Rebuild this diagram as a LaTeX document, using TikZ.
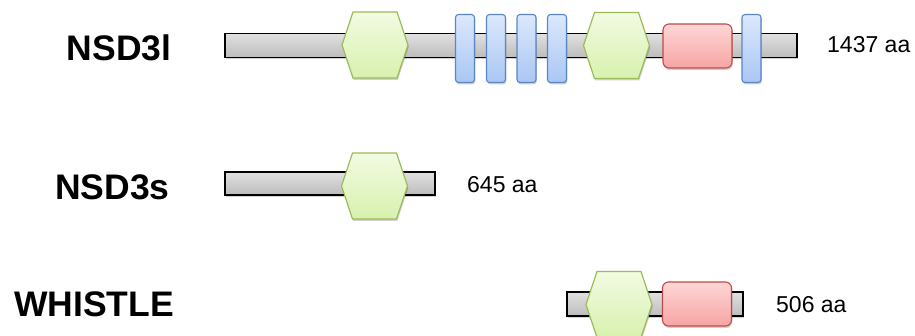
\documentclass[tikz,border=0pt]{standalone}
\usepackage{fontspec}
\setmainfont{Liberation Sans}
\usetikzlibrary{shadows}

% domain colours
\definecolor{hexline}{HTML}{9BBB59}
\definecolor{hextop}{HTML}{F2FBE2}
\definecolor{hexbot}{HTML}{D8F1AE}
\definecolor{boxline}{HTML}{5A86C4}
\definecolor{boxtop}{HTML}{DCE8FC}
\definecolor{boxbot}{HTML}{A9C6F3}
\definecolor{redline}{HTML}{BE4B48}
\definecolor{redtop}{HTML}{FFD6D6}
\definecolor{redbot}{HTML}{F6A4A4}

\tikzset{
  softshadow/.style={drop shadow={shadow xshift=0.8pt, shadow yshift=-2pt, opacity=0.18, fill=black}},
  chain/.style={rectangle, draw=black, line width=1.3pt, inner sep=0pt,
    top color=white!88!black, bottom color=white!74!black, softshadow},
  hexdom/.style={draw=hexline, line width=1.2pt, top color=hextop, bottom color=hexbot, softshadow},
  bluedom/.style={rectangle, rounded corners=3pt, draw=boxline, line width=1.1pt, inner sep=0pt,
    minimum width=19pt, minimum height=68pt, top color=boxtop, bottom color=boxbot, softshadow},
  reddom/.style={rectangle, rounded corners=6pt, draw=redline, line width=1.1pt, inner sep=0pt,
    minimum width=69pt, minimum height=44pt, top color=redtop, bottom color=redbot, softshadow},
  protname/.style={anchor=base, inner sep=0pt, font=\bfseries\fontsize{35.5}{40}\selectfont},
  aalabel/.style={anchor=base west, inner sep=0pt, font=\fontsize{23}{26}\selectfont},
  pics/hexagon/.style={code={
    \path[hexdom] (-33,0) -- (-22,-33) -- (22,-33) -- (33,0) -- (22,33) -- (-22,33) -- cycle;
  }}
}

\begin{document}
\begin{tikzpicture}[x=1pt, y=-1pt]
\useasboundingbox (0,0) rectangle (915,336);

% ---- NSD3l ----
\node[protname] (n1) at (119,61) {NSD3l};
\node[chain, minimum width=572pt, minimum height=24pt] (p1) at (511,45.5) {};
\pic at (375,45) {hexagon};
\node[bluedom] (b1) at (465,48.5) {};
\node[bluedom] (b2) at (496,48.5) {};
\node[bluedom] (b3) at (526.5,48.5) {};
\node[bluedom] (b4) at (557,48.5) {};
\pic at (616.5,45.5) {hexagon};
\node[reddom] (r1) at (697.5,46) {};
\node[bluedom] (b5) at (751.5,48.5) {};
\node[aalabel] (a1) at (827,53) {1437 aa};

% ---- NSD3s ----
\node[protname] (n2) at (112.5,200) {NSD3s};
\node[chain, minimum width=210pt, minimum height=23pt] (p2) at (330,183.5) {};
\pic at (374.5,186) {hexagon};
\node[aalabel] (a2) at (467,193) {645 aa};

% ---- WHISTLE ----
\node[protname] (n3) at (94,317) {WHISTLE};
\node[chain, minimum width=176pt, minimum height=24pt] (p3) at (655,304) {};
\pic at (619,304.5) {hexagon};
\node[reddom] (r3) at (697,304) {};
\node[aalabel] (a3) at (776,313) {506 aa};
\end{tikzpicture}
\end{document}
